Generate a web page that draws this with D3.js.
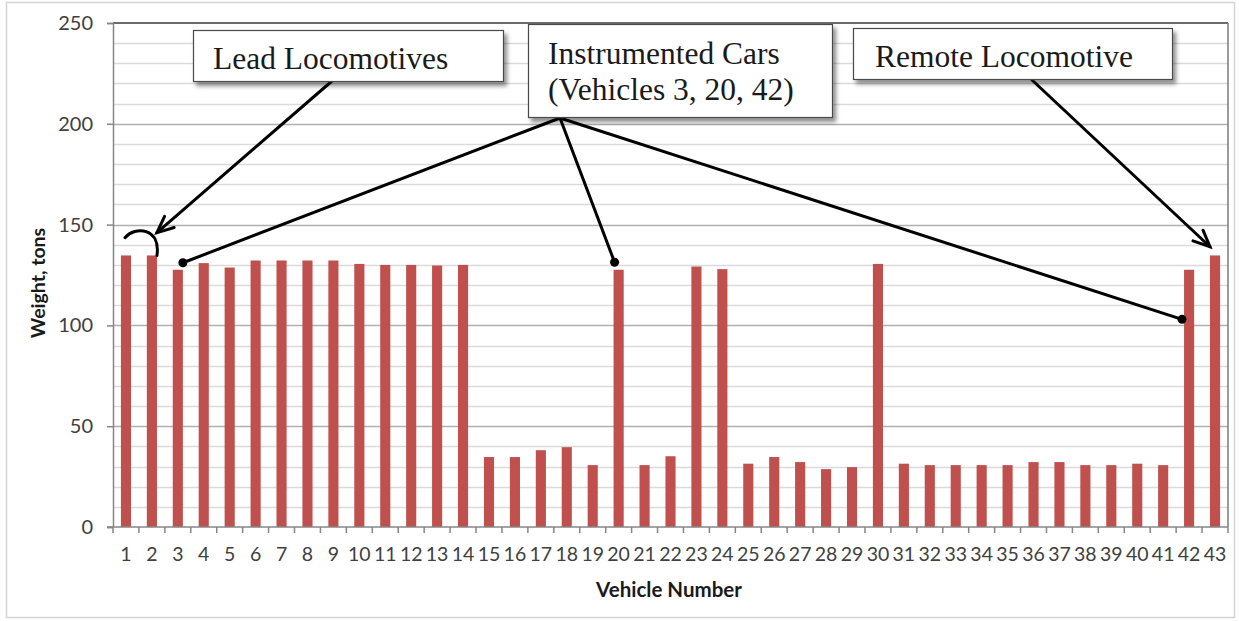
<!DOCTYPE html>
<html>
<head>
<meta charset="utf-8">
<script src="https://cdn.jsdelivr.net/npm/d3@7"></script>
<style>
  html, body { margin: 0; padding: 0; background: #fff; }
  svg { display: block; }
</style>
</head>
<body>
<svg id="chart" width="1239" height="621"></svg>
<script>
// ---- data ----
const vehicles = ["1","2","3","4","5","6","7","8","9","10","11","12","13","14","15","16","17","18","19","20","21","22","23","24","25","26","27","28","29","30","31","32","33","34","35","36","37","38","39","40","41","42","43"];
const weights = [134.7,134.7,127.6,130.9,128.7,132.2,132.2,132.2,132.2,130.5,130,130,129.7,130,34.7,34.7,38.1,39.6,30.7,127.6,30.7,35.1,129.2,127.9,31.4,34.7,32.2,28.7,29.7,130.5,31.4,30.7,30.7,30.7,30.7,32.2,32.2,30.7,30.7,31.4,30.7,127.6,134.7];
const yTicks = [0,50,100,150,200,250];
const minorTicks = [10,20,30,40,60,70,80,90,110,120,130,140,160,170,180,190,210,220,230,240];
const xTitle = "Vehicle Number";
const yTitle = "Weight, tons";
const leadLabel = ["Lead Locomotives"];
const instLabel = ["Instrumented Cars", "(Vehicles 3, 20, 42)"];
const remoteLabel = ["Remote Locomotive"];

// ---- layout ----
const svg = d3.select("#chart");
const L = 113, R = 1228, T = 23, B = 527;
const sans = "Lato, 'Open Sans', sans-serif";

const x = d3.scaleBand().domain(vehicles).range([L, R]).paddingInner(0.61).paddingOuter(0.305);
const y = d3.scaleLinear().domain([0, 250]).range([B, T]);

// outer frame
svg.append("rect").attr("x", 6.5).attr("y", 2.5).attr("width", 1228).attr("height", 615)
  .attr("fill", "#fff").attr("stroke", "#d4d4d4").attr("stroke-width", 1.5);

// filter for shadow
const defs = svg.append("defs");
const f = defs.append("filter").attr("id", "shadow").attr("x", "-10%").attr("y", "-20%").attr("width", "130%").attr("height", "160%");
f.append("feDropShadow").attr("dx", 3).attr("dy", 4).attr("stdDeviation", 2.2)
  .attr("flood-color", "#000").attr("flood-opacity", 0.45);

// gridlines
svg.append("g").selectAll("line").data(minorTicks).join("line")
  .attr("x1", L).attr("x2", R).attr("y1", d => Math.round(y(d)) + 0.5).attr("y2", d => Math.round(y(d)) + 0.5)
  .attr("stroke", "#dadada").attr("stroke-width", 1.5);
svg.append("g").selectAll("line").data(yTicks.filter(d => d > 0 && d < 250)).join("line")
  .attr("x1", L).attr("x2", R).attr("y1", d => Math.round(y(d)) + 0.5).attr("y2", d => Math.round(y(d)) + 0.5)
  .attr("stroke", "#b0b0b0").attr("stroke-width", 1.5);

// plot frame (top/right)
svg.append("line").attr("x1", L).attr("x2", R).attr("y1", y(250)).attr("y2", y(250))
  .attr("stroke", "#3a3a3a").attr("stroke-width", 1.5);
svg.append("line").attr("x1", R).attr("x2", R).attr("y1", y(250)).attr("y2", y(0))
  .attr("stroke", "#7a7a7a").attr("stroke-width", 1.5);

// bars
svg.append("g").selectAll("rect").data(vehicles).join("rect")
  .attr("x", d => x(d)).attr("width", x.bandwidth())
  .attr("y", (d, i) => y(weights[i])).attr("height", (d, i) => y(0) - y(weights[i]))
  .attr("fill", "#c0504d");

// y axis
const yAxis = d3.axisLeft(y).tickValues(yTicks).tickSize(6).tickPadding(14).tickFormat(d3.format("d"));
const gy = svg.append("g").attr("transform", `translate(${L},0)`).call(yAxis);
gy.select(".domain").attr("stroke", "#868686").attr("stroke-width", 1.5);
gy.selectAll(".tick line").attr("stroke", "#868686").attr("stroke-width", 1.5);
gy.selectAll(".tick text").attr("font-family", sans).attr("font-size", 20)
  .attr("fill", "#404040");

// x axis
const gx = svg.append("g").attr("transform", `translate(0,${B})`);
gx.append("line").attr("x1", L - 6).attr("x2", R).attr("y1", 0).attr("y2", 0)
  .attr("stroke", "#868686").attr("stroke-width", 1.5);
const boundaries = d3.range(vehicles.length + 1).map(i => L + i * x.step());
gx.selectAll("line.tk").data(boundaries).join("line").attr("class", "tk")
  .attr("x1", d => d).attr("x2", d => d).attr("y1", 0).attr("y2", 6)
  .attr("stroke", "#868686").attr("stroke-width", 1.5);
gx.selectAll("text").data(vehicles).join("text")
  .attr("x", d => x(d) + x.bandwidth() / 2).attr("y", 34)
  .attr("text-anchor", "middle")
  .attr("font-family", sans).attr("font-size", 19.5)
  .attr("fill", "#404040").text(d => d);

// axis titles
svg.append("text").attr("x", 669).attr("y", 597).attr("text-anchor", "middle")
  .attr("font-family", sans).attr("font-weight", "bold").attr("font-size", 20.5)
  .attr("fill", "#1a1a1a").text(xTitle);
svg.append("text").attr("transform", `translate(45,${(T + B) / 2 + 8}) rotate(-90)`).attr("text-anchor", "middle")
  .attr("font-family", sans).attr("font-weight", "bold").attr("font-size", 19.5)
  .attr("fill", "#1a1a1a").text(yTitle);

// ---- annotations ----
const serif = "'Liberation Serif', 'Times New Roman', serif";
const ann = svg.append("g").attr("stroke-linecap", "round");
function box(x0, y0, w, h, lines, tx, baselines) {
  ann.append("rect").attr("x", x0 + 0.5).attr("y", y0 + 0.5).attr("width", w).attr("height", h)
    .attr("fill", "#fff").attr("stroke", "#4a4a4a").attr("stroke-width", 1.2).attr("filter", "url(#shadow)");
  lines.forEach((t, i) => {
    ann.append("text").attr("x", tx).attr("y", baselines[i])
      .attr("font-family", serif).attr("font-size", 31.5).attr("fill", "#1a1a1a").text(t);
  });
}
function arrowHead(tipX, tipY, fromX, fromY) {
  const ang = Math.atan2(fromY - tipY, fromX - tipX);
  const len = 18, spread = 0.42;
  const p1 = [tipX + len * Math.cos(ang - spread), tipY + len * Math.sin(ang - spread)];
  const p2 = [tipX + len * Math.cos(ang + spread), tipY + len * Math.sin(ang + spread)];
  ann.append("path").attr("d", `M${p1[0]},${p1[1]} L${tipX},${tipY} L${p2[0]},${p2[1]}`)
    .attr("fill", "none").attr("stroke", "#000").attr("stroke-width", 3).attr("stroke-linejoin", "miter");
}

// lead locomotives
const leadTip = [x("2") + x.bandwidth(), y(146)];
ann.append("line").attr("x1", 332).attr("y1", 81).attr("x2", leadTip[0]).attr("y2", leadTip[1])
  .attr("stroke", "#000").attr("stroke-width", 3);
arrowHead(leadTip[0], leadTip[1], 332, 81);
// bracket arc over bars 1-2
const a0 = [x("1") + x.bandwidth() / 2 - 1, y(143.5)];
const a1 = [x("2") + x.bandwidth(), y(weights[1])];
ann.append("path").attr("d", `M${a0[0]},${a0[1]} C${a0[0] + 10},${a0[1] - 12} ${a1[0] + 4},${a0[1] - 10} ${a1[0]},${a1[1]}`)
  .attr("fill", "none").attr("stroke", "#000").attr("stroke-width", 3);

// instrumented cars
const apex = [560, 118];
const dots = [
  [x("3") + x.bandwidth(), y(weights[2]) - 7],
  [x("20") + 1, y(weights[19]) - 7.5],
  [x("42") - 2, y(103)]
];
dots.forEach(d => {
  ann.append("line").attr("x1", apex[0]).attr("y1", apex[1]).attr("x2", d[0]).attr("y2", d[1])
    .attr("stroke", "#000").attr("stroke-width", 3);
  ann.append("circle").attr("cx", d[0]).attr("cy", d[1]).attr("r", 4.5).attr("fill", "#000");
});

// remote locomotive
const remTip = [x("43"), y(139)];
ann.append("line").attr("x1", 1032).attr("y1", 80).attr("x2", remTip[0]).attr("y2", remTip[1])
  .attr("stroke", "#000").attr("stroke-width", 3);
arrowHead(remTip[0], remTip[1], 1032, 80);

// boxes (drawn on top)
box(193, 30, 310, 51, leadLabel, 213, [69]);
box(528, 24, 304, 93, instLabel, 548, [64, 100]);
box(853, 28, 319, 51, remoteLabel, 875, [67]);
</script>
</body>
</html>
